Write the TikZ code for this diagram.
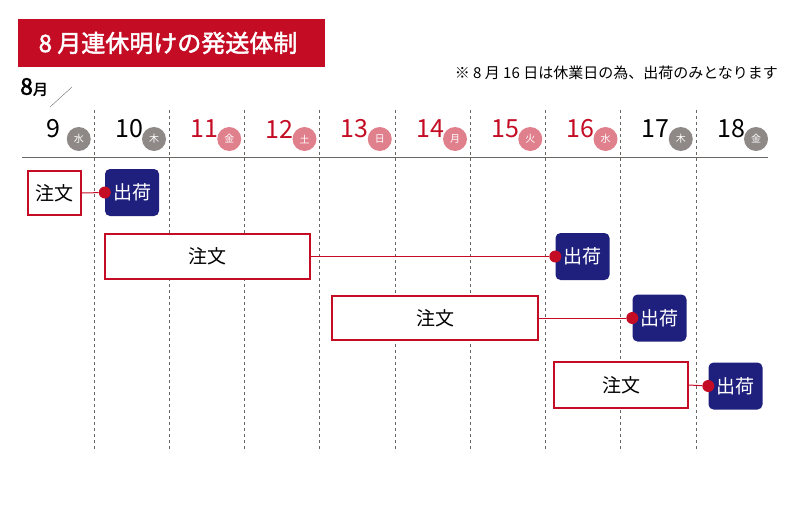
\documentclass[tikz,border=0pt]{standalone}
\usepackage{fontspec}
\setmainfont{Noto Sans CJK JP}
\newfontfamily\jpbold{Noto Sans CJK JP}[FakeBold=2]
\usetikzlibrary{positioning}
\definecolor{brandred}{HTML}{C40D25}
\definecolor{holiday}{HTML}{E0808D}
\definecolor{weekday}{HTML}{8E8987}
\definecolor{navy}{HTML}{1F1F7E}
\definecolor{rule}{HTML}{6A6664}

\begin{document}
\begin{tikzpicture}[x=1pt,y=-1pt,
  order/.style={draw=brandred,line width=1.2pt,fill=white,inner sep=0pt,font=\fontsize{19}{19}\selectfont},
  ship/.style={fill=navy,rounded corners=5pt,text=white,inner sep=0pt,minimum width=54pt,minimum height=47pt,font=\fontsize{19}{19}\selectfont},
  dot/.style={circle,fill=brandred,inner sep=0pt,minimum size=12pt},
  daybadge/.style={circle,inner sep=0pt,minimum size=24pt,text=white,font=\fontsize{10}{10}\selectfont}]
\useasboundingbox (0,0) rectangle (800,506);

% title
\fill[brandred] (18,19) rectangle (325,67);
\node[text=white,font=\jpbold\fontsize{24}{24}\selectfont] (title) at (168,43) {8 月連休明けの発送体制};
\node[font=\jpbold\fontsize{23}{23}\selectfont,anchor=west,inner sep=0pt] (month) at (20,87) {8\fontsize{15}{15}\selectfont 月};
\draw[rule,line width=0.4pt] (50,107) -- (72,87);
\node[anchor=east,inner sep=0pt,font=\fontsize{15}{15}\selectfont] (note) at (778,73) {※ 8 月 16 日は休業日の為、出荷のみとなります};

% calendar header
\foreach \x in {94,169.25,...,700} \draw[rule,dashed,line width=1pt] (\x,110) -- (\x,452);
\draw[rule,line width=1pt] (22,157) -- (768,157);
\foreach \d/\w/\c [count=\i from 0] in {9/水/weekday,10/木/weekday,11/金/holiday,12/土/holiday,13/日/holiday,14/月/holiday,15/火/holiday,16/水/holiday,17/木/weekday,18/金/weekday}{
  \pgfmathsetmacro\cx{18.75+75.25*\i}
  \ifnum\i>1 \ifnum\i<8 \def\tc{brandred}\else\def\tc{black}\fi\else\def\tc{black}\fi
  \node[text=\tc,font=\fontsize{25}{25}\selectfont] (num\i) at (\cx+35,129) {\d};
  \node[daybadge,fill=\c] (day\i) at (\cx+60,139) {\w};
}

% rows
\node[order,minimum width=53pt,minimum height=44pt] (o1) at (54.5,193) {注文};
\node[ship] (s1) at (132,192.5) {出荷};
\node[order,minimum width=205pt,minimum height=45pt] (o2) at (207.5,256.5) {注文};
\node[ship] (s2) at (582.5,256.5) {出荷};
\node[order,minimum width=206pt,minimum height=44pt] (o3) at (435,318) {注文};
\node[ship] (s3) at (659.5,318) {出荷};
\node[order,minimum width=134pt,minimum height=46pt] (o4) at (621,385) {注文};
\node[ship] (s4) at (735.5,386) {出荷};
\foreach \i in {1,...,4}{
  \node[dot] (d\i) at (s\i.west) {};
  \draw[brandred,line width=1pt] (o\i.east) -- (d\i);
}
\end{tikzpicture}
\end{document}
